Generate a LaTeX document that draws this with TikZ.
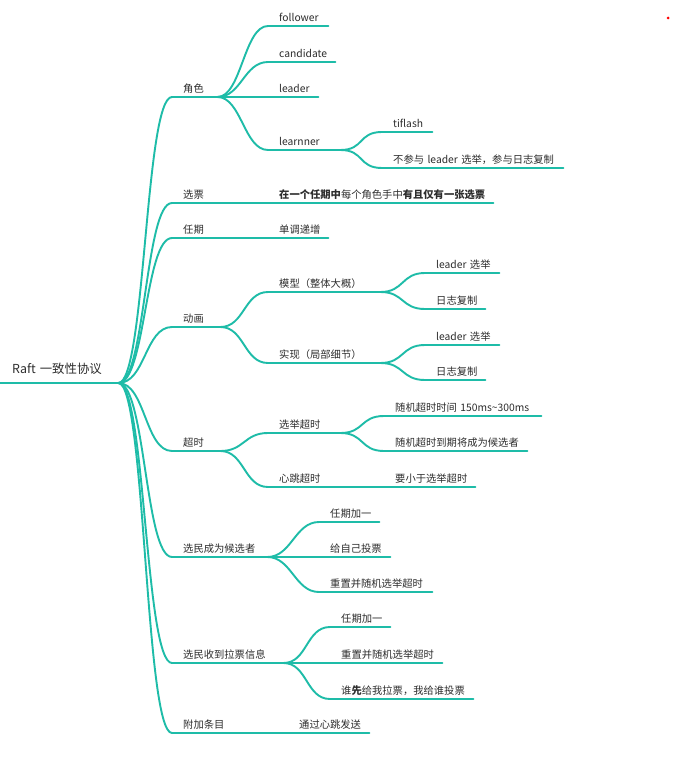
\documentclass[tikz,border=0pt]{standalone}
\usepackage{fontspec}
\setmainfont{Noto Sans CJK SC}
\definecolor{mapline}{RGB}{30,188,168}
\definecolor{ink}{RGB}{45,45,45}
\tikzset{
  line/.style={draw=mapline,line width=1.9pt,line cap=round},
  link/.style={line,out=0,in=180,distance=#1},
  link/.default=24pt,
  topic/.style={anchor=south west,inner xsep=11pt,inner ysep=4.3pt,text depth=0pt,
    align=left,text width=#1,text=ink,font=\fontsize{10.3}{12}\selectfont},
  rootic/.style={topic=#1,inner xsep=12pt,inner ysep=9pt,font=\fontsize{12.4}{14}\selectfont}
}
\begin{document}
\begin{tikzpicture}[x=1pt,y=-1pt]
      \fill[white] (0,0) rectangle (674,759);
      \useasboundingbox (0,0) rectangle (674,759);
      \node[rootic=94pt] (root) at (0,383) {Raft~一致性协议};
      \node[topic=23pt] (jiaose) at (172,97) {角色};
      \node[topic=74pt] (xuanpiao) at (172,203) {选票};
      \node[topic=74pt] (renqi) at (172,238) {任期};
      \node[topic=26pt] (donghua) at (172,327) {动画};
      \node[topic=26pt] (chaoshi) at (172,451) {超时};
      \node[topic=73pt] (houxuan) at (172,557) {选民成为候选者};
      \node[topic=89pt] (lapiao) at (172,663) {选民收到拉票信息};
      \node[topic=94pt] (fujia) at (172,733) {附加条目};
      \node[topic=38pt] (follower) at (268,26) {follower};
      \node[topic=45pt] (candidate) at (268,62) {candidate};
      \node[topic=28pt] (leader) at (268,97) {leader};
      \node[topic=50pt] (learnner) at (268,150) {learnner};
      \node[topic=28pt] (tiflash) at (382,132) {tiflash};
      \node[topic=159pt] (noelect) at (382,168) {不参与~leader~选举，参与日志复制};
      \node[topic=203pt] (onevote) at (268,203) {\textbf{在一个任期中}每个角色手中\textbf{有且仅有一张选票}};
      \node[topic=38pt] (mono) at (268,238) {单调递增};
      \node[topic=90pt] (model) at (268,292) {模型（整体大概）};
      \node[topic=90pt] (impl) at (268,363) {实现（局部细节）};
      \node[topic=52pt] (modelelect) at (425,273) {leader~选举};
      \node[topic=38pt] (modellog) at (425,309) {日志复制};
      \node[topic=52pt] (implelect) at (425,345) {leader~选举};
      \node[topic=38pt] (impllog) at (425,380) {日志复制};
      \node[topic=50pt] (electto) at (268,433) {选举超时};
      \node[topic=94pt] (heartto) at (268,487) {心跳超时};
      \node[topic=135pt] (electrand) at (384,416) {随机超时时间~150ms\textasciitilde300ms};
      \node[topic=121pt] (electcand) at (384,451) {随机超时到期将成为候选者};
      \node[topic=69pt] (heartless) at (384,487) {要小于选举超时};
      \node[topic=38pt] (hxterm) at (319,522) {任期加一};
      \node[topic=49pt] (hxself) at (319,557) {给自己投票};
      \node[topic=91pt] (hxreset) at (319,592) {重置并随机选举超时};
      \node[topic=38pt] (lpterm) at (330,627) {任期加一};
      \node[topic=90pt] (lpreset) at (330,663) {重置并随机选举超时};
      \node[topic=121pt] (lpfirst) at (330,699) {谁\textbf{先}给我拉票，我给谁投票};
      \node[topic=59pt] (fjheart) at (288,733) {通过心跳发送};
      \foreach \n in {root,jiaose,xuanpiao,renqi,donghua,chaoshi,houxuan,lapiao,fujia,
        follower,candidate,leader,learnner,tiflash,noelect,onevote,mono,model,impl,
        modelelect,modellog,implelect,impllog,electto,heartto,electrand,electcand,heartless,
        hxterm,hxself,hxreset,lpterm,lpreset,lpfirst,fjheart}
        { \draw[line] (\n.south west) -- (\n.south east); }
      \foreach \b in {jiaose,xuanpiao,renqi,donghua,chaoshi,houxuan,lapiao,fujia}
        { \draw[link=27pt] (root.south east) to (\b.south west); }
      \foreach \a/\b in {jiaose/follower,jiaose/candidate,jiaose/leader,jiaose/learnner,
        learnner/tiflash,learnner/noelect,xuanpiao/onevote,renqi/mono,donghua/model,donghua/impl,
        model/modelelect,model/modellog,impl/implelect,impl/impllog,chaoshi/electto,chaoshi/heartto,
        electto/electrand,electto/electcand,heartto/heartless,houxuan/hxterm,houxuan/hxself,
        houxuan/hxreset,lapiao/lpterm,lapiao/lpreset,lapiao/lpfirst,fujia/fjheart}
        { \draw[link] (\a.south east) to (\b.south west); }
      \fill[red] (668,18) circle (1.5pt);
    \end{tikzpicture}
\end{document}
